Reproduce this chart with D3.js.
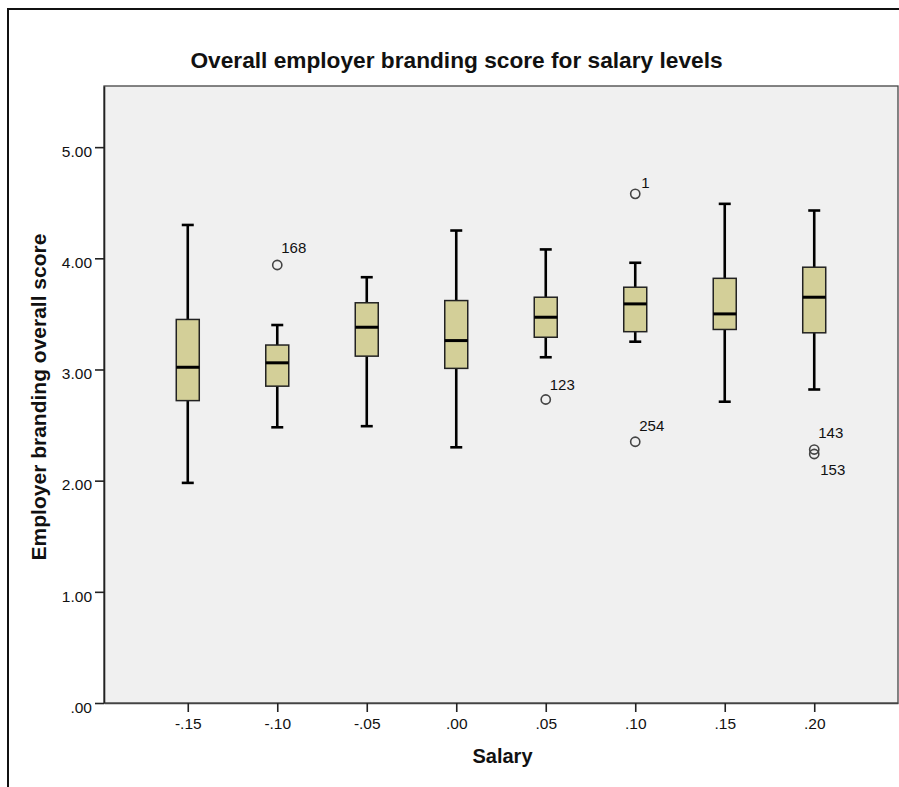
<!DOCTYPE html>
<html>
<head>
<meta charset="utf-8">
<script src="https://cdn.jsdelivr.net/npm/d3@7"></script>
<style>
  html, body { margin: 0; padding: 0; background: #ffffff; }
  svg { display: block; }
  text { font-family: "Liberation Sans", Arial, sans-serif; fill: #111; }
</style>
</head>
<body>
<svg id="chart" width="899" height="787"></svg>
<script>
// Salary level groups (x axis categories)
const categories = ["-.15", "-.10", "-.05", ".00", ".05", ".10", ".15", ".20"];

// Box-plot summary per salary level
const whiskerLow  = [1.98, 2.48, 2.49, 2.30, 3.11, 3.25, 2.71, 2.82];
const q1          = [2.72, 2.85, 3.12, 3.01, 3.29, 3.34, 3.36, 3.33];
const median      = [3.02, 3.06, 3.38, 3.26, 3.47, 3.59, 3.50, 3.65];
const q3          = [3.45, 3.22, 3.60, 3.62, 3.65, 3.74, 3.82, 3.92];
const whiskerHigh = [4.30, 3.40, 3.83, 4.25, 4.08, 3.96, 4.49, 4.43];

// Outlying cases
const outlierCase     = ["168", "123", "1", "254", "143", "153"];
const outlierCategory = ["-.10", ".05", ".10", ".10", ".20", ".20"];
const outlierValue    = [3.94, 2.73, 4.58, 2.35, 2.28, 2.24];

// Y axis ticks
const yTicks = [0, 1, 2, 3, 4, 5];

// Case label offsets (dx, dy) from each outlier's centre
const caseLabelOffset = {
  "168": [4, -12], "123": [4, -10], "1": [6, -6],
  "254": [4, -11], "143": [4, -12], "153": [6, 21]
};

const svg = d3.select("#chart");
const plot = { left: 104, top: 86, right: 898, bottom: 703 };

const x = d3.scalePoint()
  .domain(categories)
  .range([plot.left, plot.right])
  .padding(0.936);

const y = d3.scaleLinear()
  .domain([0, 5.55])
  .range([plot.bottom, plot.top]);

// Outer frame (left and top edges only within the view)
svg.append("path")
  .attr("d", "M8,800 L8,9 L905,9")
  .attr("fill", "none")
  .attr("stroke", "#111")
  .attr("stroke-width", 2);

// Plot background
svg.append("rect")
  .attr("x", plot.left).attr("y", plot.top)
  .attr("width", plot.right - plot.left)
  .attr("height", plot.bottom - plot.top)
  .attr("fill", "#f0f0f0")
  .attr("stroke", "#444")
  .attr("stroke-width", 1.3);

// Title
svg.append("text")
  .attr("x", 456.5).attr("y", 67.5)
  .attr("text-anchor", "middle")
  .attr("font-size", "22.7px")
  .attr("font-weight", "bold")
  .text("Overall employer branding score for salary levels");

// Y axis
const yAxis = svg.append("g")
  .attr("transform", `translate(${plot.left},0)`)
  .call(d3.axisLeft(y)
    .tickValues(yTicks)
    .tickSize(9)
    .tickSizeOuter(0)
    .tickPadding(3)
    .tickFormat(d => d3.format(".2f")(d).replace(/^0/, "")));
yAxis.select(".domain").attr("stroke", "#222").attr("stroke-width", 1.6);
yAxis.selectAll(".tick line").attr("stroke", "#222").attr("stroke-width", 1.6);
yAxis.selectAll(".tick text")
  .attr("font-size", "15.5px")
  .attr("font-family", "Liberation Sans, Arial, sans-serif")
  .attr("fill", "#111")
  .attr("dy", "0.6em");

// X axis
const xAxis = svg.append("g")
  .attr("transform", `translate(0,${plot.bottom})`)
  .call(d3.axisBottom(x).tickSize(9).tickSizeOuter(0).tickPadding(6));
xAxis.select(".domain").attr("stroke", "#444").attr("stroke-width", 1.6);
xAxis.selectAll(".tick line").attr("stroke", "#222").attr("stroke-width", 1.6);
xAxis.selectAll(".tick text")
  .attr("font-size", "15.5px")
  .attr("font-family", "Liberation Sans, Arial, sans-serif")
  .attr("fill", "#111");

// Axis titles
svg.append("text")
  .attr("x", 502.5).attr("y", 763)
  .attr("text-anchor", "middle")
  .attr("font-size", "20px")
  .attr("font-weight", "bold")
  .text("Salary");

svg.append("text")
  .attr("transform", "translate(46,397) rotate(-90)")
  .attr("text-anchor", "middle")
  .attr("font-size", "21px")
  .attr("font-weight", "bold")
  .text("Employer branding overall score");

// Boxes
const boxes = categories.map((c, i) => ({
  c, lo: whiskerLow[i], q1: q1[i], med: median[i], q3: q3[i], hi: whiskerHigh[i]
}));

const boxW = 23, capW = 12;
const g = svg.append("g");

const bx = g.selectAll("g.box").data(boxes).join("g").attr("class", "box");

// whiskers
bx.append("line")
  .attr("x1", d => x(d.c)).attr("x2", d => x(d.c))
  .attr("y1", d => y(d.hi)).attr("y2", d => y(d.q3))
  .attr("stroke", "#000").attr("stroke-width", 2.6);
bx.append("line")
  .attr("x1", d => x(d.c)).attr("x2", d => x(d.c))
  .attr("y1", d => y(d.q1)).attr("y2", d => y(d.lo))
  .attr("stroke", "#000").attr("stroke-width", 2.6);
// caps
bx.append("line")
  .attr("x1", d => x(d.c) - capW / 2).attr("x2", d => x(d.c) + capW / 2)
  .attr("y1", d => y(d.hi)).attr("y2", d => y(d.hi))
  .attr("stroke", "#000").attr("stroke-width", 2.6);
bx.append("line")
  .attr("x1", d => x(d.c) - capW / 2).attr("x2", d => x(d.c) + capW / 2)
  .attr("y1", d => y(d.lo)).attr("y2", d => y(d.lo))
  .attr("stroke", "#000").attr("stroke-width", 2.6);
// box
bx.append("rect")
  .attr("x", d => x(d.c) - boxW / 2)
  .attr("y", d => y(d.q3))
  .attr("width", boxW)
  .attr("height", d => y(d.q1) - y(d.q3))
  .attr("fill", "#d3cf98")
  .attr("stroke", "#222")
  .attr("stroke-width", 1.5);
// median
bx.append("line")
  .attr("x1", d => x(d.c) - boxW / 2).attr("x2", d => x(d.c) + boxW / 2)
  .attr("y1", d => y(d.med)).attr("y2", d => y(d.med))
  .attr("stroke", "#000").attr("stroke-width", 3);

// Outliers
const outliers = outlierCase.map((id, i) => ({
  id, c: outlierCategory[i], v: outlierValue[i]
}));

g.selectAll("circle.outlier").data(outliers).join("circle")
  .attr("class", "outlier")
  .attr("cx", d => x(d.c))
  .attr("cy", d => y(d.v))
  .attr("r", 4.6)
  .attr("fill", "none")
  .attr("stroke", "#444")
  .attr("stroke-width", 1.6);

g.selectAll("text.case").data(outliers).join("text")
  .attr("class", "case")
  .attr("x", d => x(d.c) + caseLabelOffset[d.id][0])
  .attr("y", d => y(d.v) + caseLabelOffset[d.id][1])
  .attr("font-size", "15px")
  .text(d => d.id);
</script>
</body>
</html>
